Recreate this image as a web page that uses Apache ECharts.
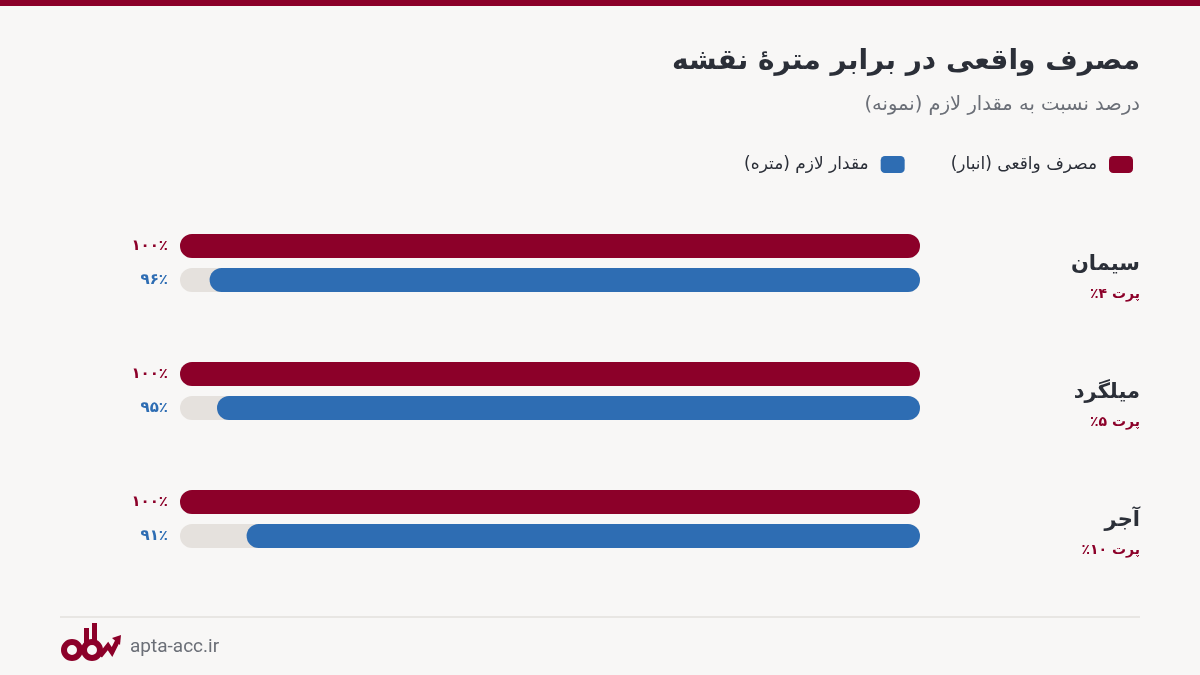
<!DOCTYPE html>
<html><head><meta charset="utf-8">
<script src="https://cdn.jsdelivr.net/npm/echarts@6/dist/echarts.min.js"></script>
<style>html,body{margin:0;padding:0;background:#f8f7f6}#c{width:1200px;height:675px}</style>
</head><body><div id="c"></div>
<script>
const titleText = 'مصرف واقعی در برابر مترهٔ نقشه';
const subtitleText = 'درصد نسبت به مقدار لازم (نمونه)';
const categories = ['سیمان', 'میلگرد', 'آجر'];
const lossLabels = ['پرت ۴٪', 'پرت ۵٪', 'پرت ۱۰٪'];
const seriesNames = ['مصرف واقعی (انبار)', 'مقدار لازم (متره)'];
const actualValues = [100, 100, 100];
const requiredValues = [96, 95, 91];
const siteText = 'apta-acc.ir';

const RED = '#8c0029', BLUE = '#2e6db3', TRACK = '#e5e1dd', DARK = '#2b2f38';
const FONT = "'DejaVu Sans', sans-serif";
const rtl = s => '\u200F' + s + '\u200F';
const fa = n => String(n).replace(/\d/g, d => '۰۱۲۳۴۵۶۷۸۹'[d]) + '٪';

const labelData = [];
categories.forEach((c, i) => {
  labelData.push([100, i, actualValues[i], 0]);
  labelData.push([100, i, requiredValues[i], 1]);
});

const chart = echarts.init(document.getElementById('c'));
chart.setOption({
  backgroundColor: '#f8f7f6',
  animation: false,
  textStyle: { fontFamily: FONT },
  legend: {
    data: [seriesNames[1], seriesNames[0]].map(n => ({ name: n })),
    formatter: n => rtl(n),
    right: 62, top: 151, align: 'right', icon: 'roundRect',
    itemWidth: 24, itemHeight: 17, itemGap: 46,
    textStyle: { fontFamily: FONT, fontSize: 17, color: DARK, padding: [0, 7, 0, 0] }
  },
  grid: { left: 180, right: 280, top: 199, bottom: 92 },
  xAxis: { type: 'value', min: 0, max: 100, inverse: true, show: false },
  yAxis: {
    type: 'category', data: categories, inverse: true, position: 'right',
    axisLine: { show: false }, axisTick: { show: false },
    axisLabel: {
      align: 'right', margin: 220, padding: [30, 0, 0, 0],
      formatter: (v, i) => '{n|' + rtl(v) + '}\n{s|' + rtl(lossLabels[i]) + '}',
      rich: {
        n: { fontFamily: FONT, fontSize: 21, fontWeight: 'bold', color: DARK, lineHeight: 32, align: 'right' },
        s: { fontFamily: FONT, fontSize: 14, fontWeight: 'bold', color: RED, lineHeight: 26, align: 'right' }
      }
    }
  },
  series: [
    {
      name: seriesNames[0], type: 'bar', data: actualValues, barWidth: 24, barGap: '42%',
      itemStyle: { color: RED, borderRadius: 12 },
      showBackground: true, backgroundStyle: { color: TRACK, borderRadius: 12 }
    },
    {
      name: seriesNames[1], type: 'bar', data: requiredValues, barWidth: 24, barGap: '42%',
      itemStyle: { color: BLUE, borderRadius: 12 },
      showBackground: true, backgroundStyle: { color: TRACK, borderRadius: 12 }
    },
    {
      type: 'custom', data: labelData, encode: { x: 0, y: 1 }, silent: true, z: 5,
      renderItem: (params, api) => {
        const p = api.coord([api.value(0), api.value(1)]);
        const which = api.value(3);
        return {
          type: 'text',
          style: {
            x: p[0] - 12, y: p[1] + (which === 0 ? -17 : 17),
            text: fa(api.value(2)), align: 'right', verticalAlign: 'middle',
            fill: which === 0 ? RED : BLUE,
            font: 'bold 15px ' + FONT
          }
        };
      }
    }
  ],
  graphic: [
    { type: 'rect', shape: { x: 0, y: 0, width: 1200, height: 6 }, style: { fill: RED } },
    { type: 'text', style: { x: 1140, y: 62, text: rtl(titleText), align: 'right', verticalAlign: 'middle', fill: DARK, font: 'bold 28px ' + FONT } },
    { type: 'text', style: { x: 1140, y: 105, text: rtl(subtitleText), align: 'right', verticalAlign: 'middle', fill: '#6b6f77', font: '19.5px ' + FONT } },
    { type: 'line', shape: { x1: 60, y1: 617, x2: 1140, y2: 617 }, style: { stroke: '#e3e0dd', lineWidth: 1.5 } },
    { type: 'circle', shape: { cx: 72, cy: 650, r: 8 }, style: { fill: 'none', stroke: RED, lineWidth: 6 } },
    { type: 'circle', shape: { cx: 92, cy: 650, r: 8 }, style: { fill: 'none', stroke: RED, lineWidth: 6 } },
    { type: 'rect', shape: { x: 84, y: 628, width: 5, height: 16 }, style: { fill: RED } },
    { type: 'rect', shape: { x: 92, y: 623, width: 5, height: 20 }, style: { fill: RED } },
    { type: 'polyline', shape: { points: [[100, 656], [108, 646], [112, 652], [118, 640]] }, style: { stroke: RED, lineWidth: 5, fill: 'none' } },
    { type: 'polygon', shape: { points: [[112, 638], [121, 635], [120, 645]] }, style: { fill: RED } },
    { type: 'text', style: { x: 130, y: 647, text: siteText, fill: '#6b6f77', font: '19px Roboto, sans-serif', verticalAlign: 'middle' } }
  ]
});
</script></body></html>
